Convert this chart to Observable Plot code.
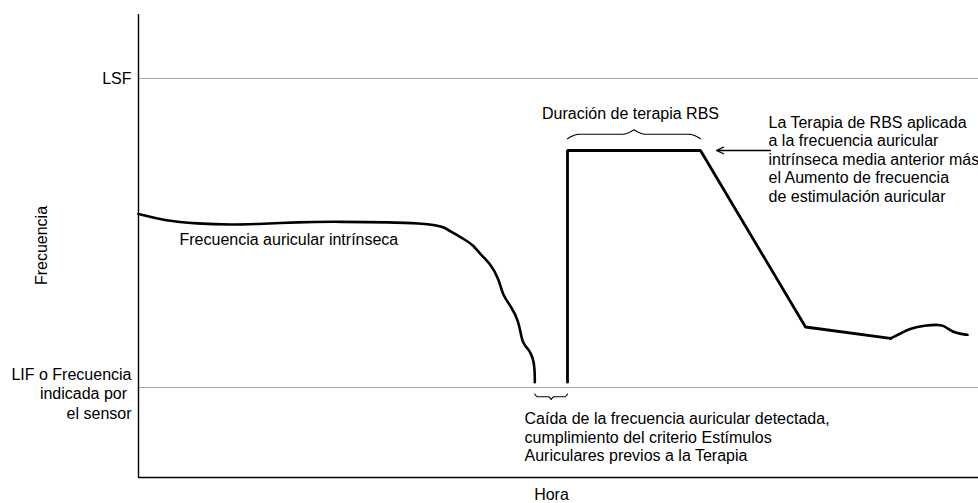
<!DOCTYPE html>
<html>
<head>
<meta charset="utf-8">
<script src="https://cdn.jsdelivr.net/npm/d3@7"></script>
<script src="https://cdn.jsdelivr.net/npm/@observablehq/plot@0.6"></script>
<style>
  html, body { margin: 0; padding: 0; background: #fff; }
  svg { display: block; }
</style>
</head>
<body>
<div id="chart"></div>
<script>
// ---- Data (Hora in arbitrary time units, Frecuencia relative: LIF = 0, LSF = 100) ----
const intrinsicTime = [0, 2.5, 5.9, 9.2, 12.5, 15.9, 19.2, 29.5, 30.7, 31.5, 32.7, 33.5, 34.2, 35.2, 36.03, 36.47, 37.2, 38.03, 38.37, 38.87, 39.47, 39.63, 39.63];
const intrinsicRate = [56.15, 54.05, 52.98, 52.65, 52.98, 53.5, 53.72, 53.3, 51.6, 49.94, 47.73, 46.0, 43.04, 40.03, 35.18, 29.45, 26.54, 21.68, 14.14, 13.04, 9.81, 5.5, 1.72];

const therapyTime = [42.9, 42.9, 56.2, 66.7, 75.2];
const therapyRate = [1.72, 76.7, 76.7, 19.58, 15.86];

const recoveryTime = [75.2, 76.2, 77.2, 78.5, 80.47, 80.87, 81.87, 82.9];
const recoveryRate = [15.86, 17.48, 19.09, 20.06, 20.49, 19.0, 17.38, 17.06];

const limitValues = [100, 0];
const limitLabels = ["LSF", "LIF o Frecuencia\nindicada por\u00a0\nel sensor"];

const axisMin = { time: 0, rate: -29.13 };
const domainX = [0, 84];
const domainY = [-29.13, 120.71];

// brace intervals: [start, end, endRate, tipRate]
const dropBrace = [39.63, 42.9, -2.1, -3.9];
const therapyBrace = [42.9, 56.2, 80.5, 83.4];

// arrow pointing at therapy plateau
const arrowFrom = [63.2, 76.7];
const arrowTo = [57.8, 76.7];

// annotation texts
const labelIntrinsic = { t: 4.1, f: 47.9, text: "Frecuencia auricular intrínseca" };
const labelDuration = { t: 49.2, f: 88.67, text: "Duración de terapia RBS" };
const labelTherapy = { t: 63.0, f: 73.95, text: "La Terapia de RBS aplicada\na la frecuencia auricular\nintrínseca media anterior más\nel Aumento de frecuencia\nde estimulación auricular" };
const labelDrop = { t: 38.6, f: -15.9, text: "Caída de la frecuencia auricular detectada,\ncumplimiento del criterio Estímulos\nAuriculares previos a la Terapia" };
const labelX = { t: 41.3, f: -34.8, text: "Hora" };
const labelY = { t: -9.63, f: 45.95, text: "Frecuencia" };

// ---- Build tables ----
const zip = (ts, fs) => ts.map((t, i) => ({ t, f: fs[i] }));
const intrinsic = zip(intrinsicTime, intrinsicRate);
const therapy = zip(therapyTime, therapyRate);
const recovery = zip(recoveryTime, recoveryRate);
const limits = limitValues.map((v, i) => ({ v, label: limitLabels[i] }));

function brace([x1, x2, yEnd, yTip]) {
  const pts = [];
  const xm = (x1 + x2) / 2;
  const shape = s => {
    if (s < 0.18) return 0.5 * Math.sin((s / 0.18) * Math.PI / 2);
    if (s > 0.82) return 0.5 + 0.5 * (1 - Math.cos(((s - 0.82) / 0.18) * Math.PI / 2));
    return 0.5;
  };
  const n = 40;
  for (let i = 0; i <= n; i++) {
    const s = i / n;
    pts.push({ t: x1 + s * (xm - x1), f: yEnd + (yTip - yEnd) * shape(s) });
  }
  for (let i = n - 1; i >= 0; i--) {
    const s = i / n;
    pts.push({ t: x2 - s * (x2 - xm), f: yEnd + (yTip - yEnd) * shape(s) });
  }
  return pts;
}

const font = "Liberation Sans, Arial, Helvetica, sans-serif";

const chart = Plot.plot({
  width: 978,
  height: 503,
  marginLeft: 138,
  marginRight: 0,
  marginTop: 14,
  marginBottom: 26,
  x: { domain: domainX, axis: null },
  y: { domain: domainY, axis: null },
  style: { fontFamily: font, fontSize: "16px", color: "#000", background: "#fff" },
  marks: [
    Plot.ruleY(limitValues, { stroke: "#a8a8a8", strokeWidth: 1.2 }),
    Plot.ruleX([axisMin.time], { stroke: "#000", strokeWidth: 1.4 }),
    Plot.ruleY([axisMin.rate], { stroke: "#000", strokeWidth: 1.4 }),
    Plot.text(limits.slice(0, 1), { x: () => axisMin.time, y: "v", text: "label", textAnchor: "end", dx: -7, fontSize: 16, fill: "#000" }),
    Plot.text(limits.slice(1), { x: () => axisMin.time, y: "v", text: "label", textAnchor: "end", dx: -7, dy: 5.5, lineHeight: 1.22, fontSize: 16, fill: "#000" }),
    Plot.line(intrinsic, { x: "t", y: "f", stroke: "#000", strokeWidth: 2.6, curve: "basis" }),
    Plot.line(therapy, { x: "t", y: "f", stroke: "#000", strokeWidth: 2.8, curve: "linear", strokeLinejoin: "miter" }),
    Plot.line(recovery, { x: "t", y: "f", stroke: "#000", strokeWidth: 2.6, curve: "basis" }),
    Plot.line(brace(dropBrace), { x: "t", y: "f", stroke: "#000", strokeWidth: 1.1 }),
    Plot.line(brace(therapyBrace), { x: "t", y: "f", stroke: "#000", strokeWidth: 1.1 }),
    Plot.arrow([{ x1: arrowFrom[0], y1: arrowFrom[1], x2: arrowTo[0], y2: arrowTo[1] }], { x1: "x1", y1: "y1", x2: "x2", y2: "y2", stroke: "#000", strokeWidth: 1.3, headLength: 9, headAngle: 50 }),
    Plot.text([labelIntrinsic], { x: "t", y: "f", text: "text", textAnchor: "start", fontSize: 16, fill: "#000" }),
    Plot.text([labelDuration], { x: "t", y: "f", text: "text", textAnchor: "middle", fontSize: 16, fill: "#000" }),
    Plot.text([labelTherapy], { x: "t", y: "f", text: "text", textAnchor: "start", lineHeight: 1.16, fontSize: 16, fill: "#000" }),
    Plot.text([labelDrop], { x: "t", y: "f", text: "text", textAnchor: "start", lineHeight: 1.17, fontSize: 16, fill: "#000" }),
    Plot.text([labelX], { x: "t", y: "f", text: "text", textAnchor: "middle", fontSize: 16, fill: "#000" }),
    Plot.text([labelY], { x: "t", y: "f", text: "text", rotate: -90, textAnchor: "middle", fontSize: 16, fill: "#000" })
  ]
});

document.getElementById("chart").appendChild(chart);
</script>
</body>
</html>
